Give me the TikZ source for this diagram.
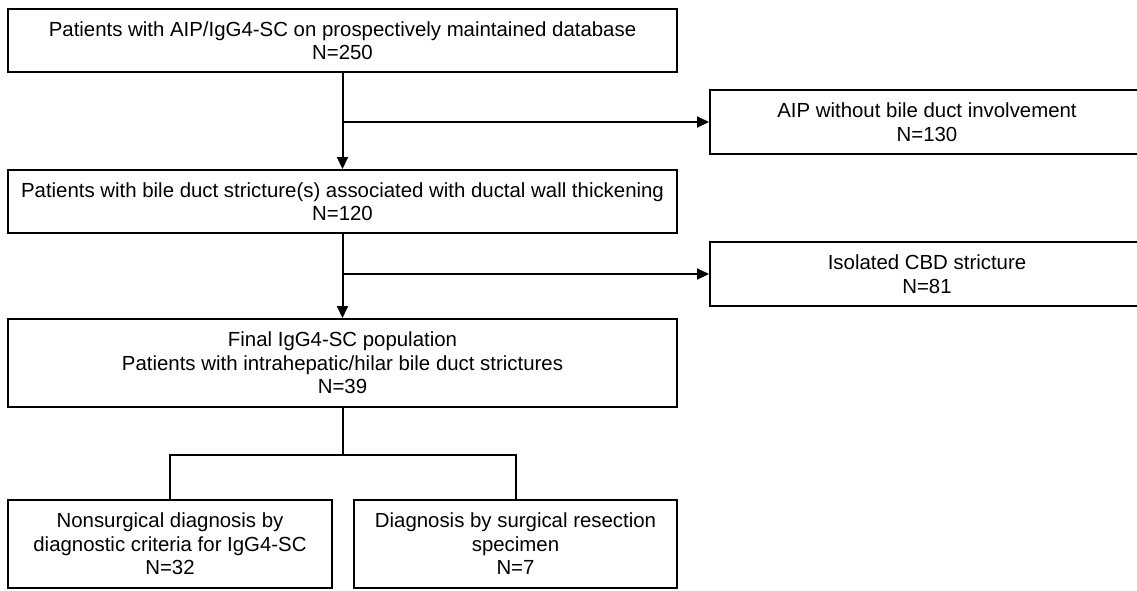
\documentclass[tikz,border=0pt]{standalone}
\usepackage{fontspec}
\setmainfont{Liberation Sans}
\usetikzlibrary{arrows.meta}
\begin{document}
\begin{tikzpicture}[x=1pt,y=-1pt,
  box/.style={draw,line width=2pt,align=center,inner sep=0pt,font=\fontsize{20.4}{23.5}\selectfont},
  arr/.style={line width=2pt,-{Triangle[length=12pt,width=11pt]}},
  ln/.style={line width=2pt}]
\useasboundingbox (0,0) rectangle (1137,590);
\node[box,minimum width=669pt,minimum height=63pt] (b1) at (342.5,40.5)
  {Patients with AIP/IgG4-SC on prospectively maintained database\\N=250};
\node[box,anchor=west,minimum width=434pt,minimum height=64pt] (r1) at (709,122)
  {AIP without bile duct involvement\\N=130};
\node[box,minimum width=669pt,minimum height=63pt] (b2) at (342.5,201.5)
  {Patients with bile duct stricture(s) associated with ductal wall thickening\\N=120};
\node[box,anchor=west,minimum width=434pt,minimum height=64pt] (r2) at (709,274)
  {Isolated CBD stricture\\N=81};
\node[box,minimum width=669pt,minimum height=88pt] (b3) at (342.5,363)
  {Final IgG4-SC population\\Patients with intrahepatic/hilar bile duct strictures\\N=39};
\node[box,minimum width=324pt,minimum height=88pt] (b4) at (170,544)
  {Nonsurgical diagnosis by\\diagnostic criteria for IgG4-SC\\N=32};
\node[box,minimum width=323pt,minimum height=88pt] (b5) at (515.5,544)
  {Diagnosis by surgical resection\\specimen\\N=7};
\draw[arr] (b1.south) -- (b2.north);
\draw[arr] (b1.south |- r1.west) -- (r1.west);
\draw[arr] (b2.south) -- (b3.north);
\draw[arr] (b2.south |- r2.west) -- (r2.west);
\draw[ln] (b3.south) -- ++(0,47) coordinate (j);
\draw[ln] (b4.north) -- (b4.north |- j) -- (b5.north |- j) -- (b5.north);
\end{tikzpicture}
\end{document}
